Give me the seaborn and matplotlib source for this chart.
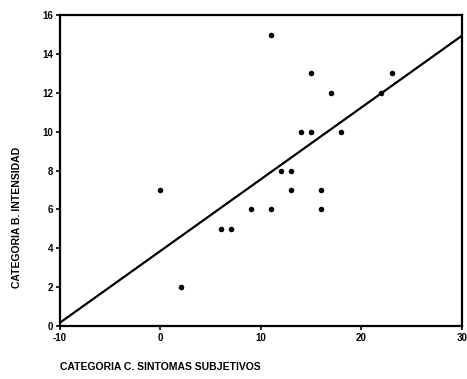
import matplotlib
matplotlib.use("Agg")
import matplotlib.pyplot as plt
import seaborn as sns
import pandas as pd

sintomas = [0, 2, 6, 7, 9, 11, 11, 12, 13, 13, 14, 15, 15, 16, 16, 17, 18, 22, 23]
intensidad = [7, 2, 5, 5, 6, 6, 15, 8, 8, 7, 10, 10, 13, 7, 6, 12, 10, 12, 13]
x_ticks = [-10, 0, 10, 20, 30]
y_ticks = [0, 2, 4, 6, 8, 10, 12, 14, 16]

df = pd.DataFrame({"x": sintomas, "y": intensidad})

sns.set_theme(style="white")
plt.rcParams['font.family'] = ['Liberation Sans', 'DejaVu Sans']
plt.rcParams['text.color'] = 'black'
plt.rcParams['xtick.color'] = 'black'
plt.rcParams['ytick.color'] = 'black'

fig = plt.figure(figsize=(4.67, 3.79), dpi=100)
ax = fig.add_axes([0.1285, 0.140, 0.8605, 0.820])
ax.set_xlim(-10, 30)
ax.set_ylim(0, 16)

sns.regplot(data=df, x="x", y="y", ax=ax, ci=None, truncate=False,
            scatter_kws=dict(s=16, color="black", marker="s", linewidths=0, alpha=1),
            line_kws=dict(color="black", lw=1.6))
ax.set_xlim(-10, 30)
ax.set_ylim(0, 16)

ax.set_xticks(x_ticks)
ax.set_yticks(y_ticks)
ax.set_xticklabels([str(t) for t in x_ticks], fontsize=7, fontweight="bold", color="black")
ax.set_yticklabels([str(t) for t in y_ticks], fontsize=7, fontweight="bold", color="black")
ax.tick_params(axis="both", direction="out", length=3, width=1.2, color="black", pad=2,
               bottom=True, left=True)
ax.set_xlabel("")
ax.set_ylabel("")
for s in ax.spines.values():
    s.set_color("black")
    s.set_linewidth(1.6)

fig.text(0.128, 0.018, "CATEGORIA C. SINTOMAS SUBJETIVOS", fontsize=7.5,
         fontweight="bold", ha="left", va="bottom", color="black")
fig.text(0.036, 0.425, "CATEGORIA B. INTENSIDAD", fontsize=7.5, fontweight="bold",
         rotation=90, ha="center", va="center", color="black")

fig.savefig("out.png", dpi=100)
